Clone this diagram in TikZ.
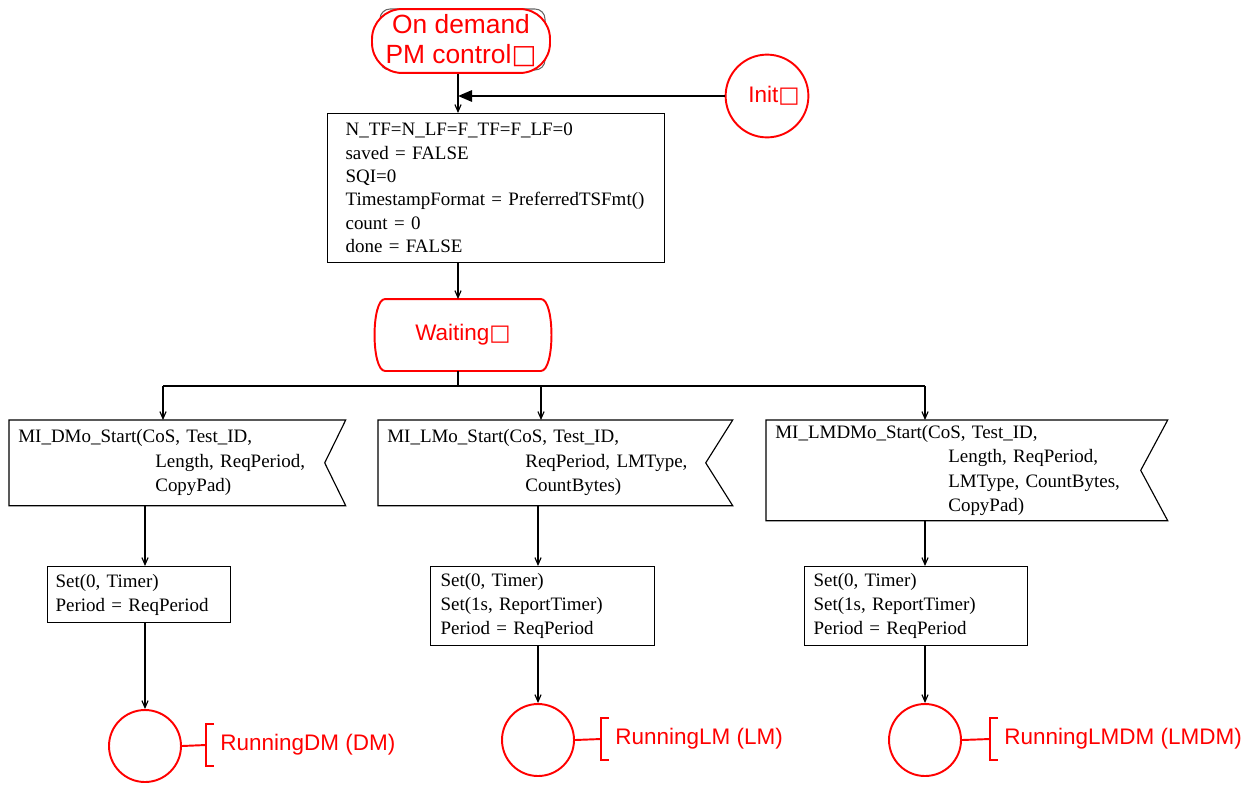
\documentclass[tikz,border=0pt]{standalone}
\usepackage{fontspec}
\setmainfont{Liberation Serif}
\newfontfamily\statefont{Liberation Sans}
\newfontfamily\glyphfont{DejaVu Sans}
\usetikzlibrary{positioning,arrows.meta,calc}
\newlength\pxu
\setlength\pxu{0.02cm}
\newcommand\nog{{\glyphfont □}}
% outline of an input signal: box with a notch on the right
\newcommand\sigoutline[2]{%
  \draw[line width=0.65pt] (#1.north west) -- (#1.north east)
    -- ($(#1.east)+(-#2,0)$) -- (#1.south east) -- (#1.south west) -- cycle;}

\begin{document}
\begin{tikzpicture}[
    x=0.02cm, y=-0.02cm,
    state/.style={draw=red, line width=1.1pt, text=red, align=center,
                  font=\statefont\fontsize{12.8}{15}\selectfont},
    task/.style={draw, line width=0.65pt, anchor=north west, align=left,
                 inner ysep=0pt, font=\fontsize{10.8}{13.6}\selectfont},
    sig/.style={anchor=north west, align=left, inner xsep=9\pxu, inner ysep=0pt,
                font=\fontsize{10.8}{13.9}\selectfont},
    note/.style={anchor=west, inner sep=0pt, text=red,
                 font=\statefont\fontsize{12.8}{15}\selectfont},
    cmt/.style={red, line width=1.1pt},
    link/.style={line width=0.65pt},
    flow/.style={-{Straight Barb[length=4pt,width=3.5pt]}, line width=0.65pt},
    initarr/.style={-{Triangle[length=8pt,width=6.5pt]}, line width=1.1pt}
  ]
    \useasboundingbox (0,0) rectangle (1256,785);

    \coordinate (spine) at (458,96);
    \coordinate (fork) at (458,386);
    \coordinate (dmin) at (163,0);
    \coordinate (lmin) at (541,0);
    \coordinate (dmcol) at (145,0);
    \coordinate (lmcol) at (538,0);
    \coordinate (lmdmcol) at (925,0);

    % start state and init
    \draw[black!60, line width=0.6pt, rounded corners=10\pxu] (380,9) rectangle (545,70);
    \node[state, fill=white, minimum width=178\pxu, minimum height=62\pxu,
          rounded corners=30\pxu, font=\statefont\fontsize{15}{17}\selectfont]
          (pmctl) at (461,41) {On demand\\PM control\nog};
    \node[state, circle, minimum size=74\pxu] (init) at (767,96) {\hspace*{14\pxu}Init\nog};
    \draw[initarr] (init) -- (spine);

    \node[task, text width=301\pxu, minimum height=149\pxu, inner xsep=18\pxu,
          font=\fontsize{10.8}{13.3}\selectfont] (setup) at (327,113)
          {N\_TF=N\_LF=F\_TF=F\_LF=0\\ saved = FALSE\\ SQI=0\\
           \mbox{TimestampFormat = PreferredTSFmt()}\\ count = 0\\ done = FALSE};
    \draw[flow] (pmctl.south -| spine) -- (setup.north -| spine);

    \node[state, draw=none, minimum width=170\pxu, minimum height=70\pxu]
          (wait) at (463,335) {Waiting\nog};
    \draw[red, line width=1.1pt]
      ($(wait.north west)+(8,0)$) -- ($(wait.north east)+(-8,0)$)
      .. controls ($(wait.north east)+(6,0)$) and ($(wait.south east)+(6,0)$)
      .. ($(wait.south east)+(-8,0)$) -- ($(wait.south west)+(8,0)$)
      .. controls ($(wait.south west)+(-6,0)$) and ($(wait.north west)+(-6,0)$)
      .. cycle;
    \draw[flow] (setup.south -| spine) -- (wait.north -| spine);

    % input signals
    \node[sig, text width=318\pxu, minimum height=85\pxu] (dmsig) at (9,420)
          {MI\_DMo\_Start(CoS, Test\_ID,\\ \hspace*{137\pxu}Length, ReqPeriod,\\
           \hspace*{137\pxu}CopyPad)};
    \sigoutline{dmsig}{21}
    \node[sig, text width=336\pxu, minimum height=85\pxu] (lmsig) at (378,420)
          {MI\_LMo\_Start(CoS, Test\_ID,\\ \hspace*{138\pxu}ReqPeriod, LMType,\\
           \hspace*{138\pxu}CountBytes)};
    \sigoutline{lmsig}{27}
    \node[sig, text width=383\pxu, minimum height=100\pxu] (lmdmsig) at (766,420)
          {MI\_LMDMo\_Start(CoS, Test\_ID,\\ \hspace*{173\pxu}Length, ReqPeriod,\\
           \hspace*{173\pxu}LMType, CountBytes,\\ \hspace*{173\pxu}CopyPad)};
    \sigoutline{lmdmsig}{27}

    \draw[link] (wait.south -| fork) -- (fork);
    \draw[link] (dmin |- fork) -- (lmdmcol |- fork);
    \draw[flow] (dmin |- fork) -- (dmin |- dmsig.north);
    \draw[flow] (lmin |- fork) -- (lmin |- lmsig.north);
    \draw[flow] (lmdmcol |- fork) -- (lmdmcol |- lmdmsig.north);

    % tasks
    \node[task, text width=167\pxu, minimum height=56\pxu, inner xsep=8\pxu]
          (dmset) at (47,566) {Set(0, Timer)\\ Period = ReqPeriod};
    \node[task, text width=204\pxu, minimum height=79\pxu, inner xsep=10\pxu]
          (lmset) at (430,566) {Set(0, Timer)\\ Set(1s, ReportTimer)\\ Period = ReqPeriod};
    \node[task, text width=205\pxu, minimum height=79\pxu, inner xsep=9\pxu]
          (lmdmset) at (804,566) {Set(0, Timer)\\ Set(1s, ReportTimer)\\ Period = ReqPeriod};

    \draw[flow] (dmcol |- dmsig.south) -- (dmcol |- dmset.north);
    \draw[flow] (lmcol |- lmsig.south) -- (lmcol |- lmset.north);
    \draw[flow] (lmdmcol |- lmdmsig.south) -- (lmdmcol |- lmdmset.north);

    % next states
    \node[state, circle, minimum size=72\pxu] (dmrun) at (145,746) {};
    \node[state, circle, minimum size=72\pxu] (lmrun) at (538,740) {};
    \node[state, circle, minimum size=72\pxu] (lmdmrun) at (925,740) {};

    \draw[flow] (dmcol |- dmset.south) -- (dmrun);
    \draw[flow] (lmcol |- lmset.south) -- (lmrun);
    \draw[flow] (lmdmcol |- lmdmset.south) -- (lmdmrun);

    % comments
    \node[note] (dmnote) at (220,745) {RunningDM (DM)};
    \node[note] (lmnote) at (615,739) {RunningLM (LM)};
    \node[note] (lmdmnote) at (1004,739) {RunningLMDM (LMDM)};
    \foreach \s in {dm,lm,lmdm} {
      \draw[cmt] (\s run.east) -- ([xshift=-14\pxu]\s note.west);
      \draw[cmt] ([xshift=-6\pxu,yshift=21\pxu]\s note.west)
        -| ([xshift=-14\pxu]\s note.west)
        |- ([xshift=-6\pxu,yshift=-21\pxu]\s note.west);
    }
\end{tikzpicture}
\end{document}
